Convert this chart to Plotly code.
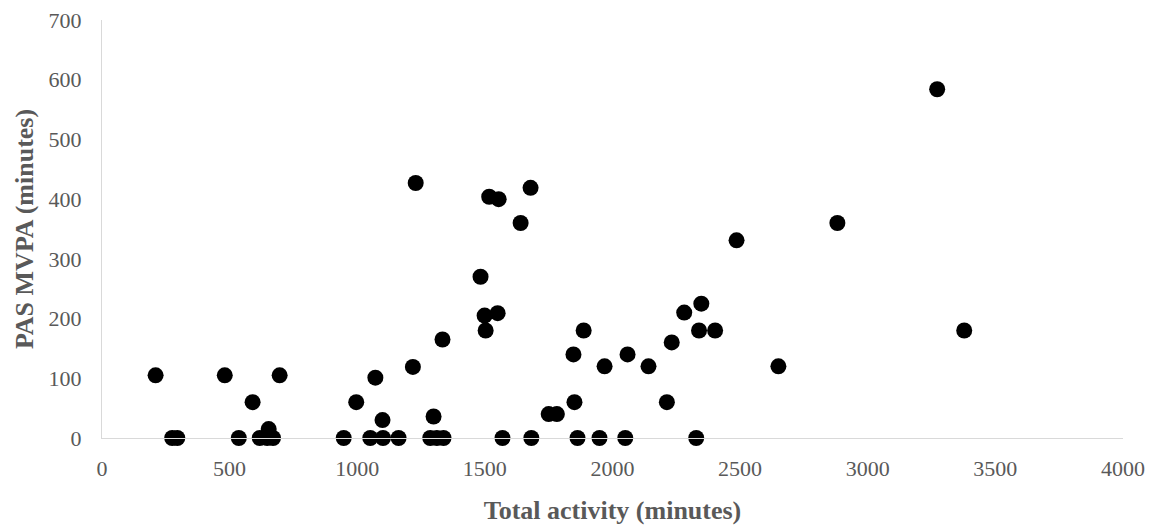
import plotly.graph_objects as go

total_activity = [210, 275, 295, 481, 536, 590, 618, 647, 670, 653, 696,
                  947, 996, 1051, 1101, 1162, 1071, 1099, 1218, 1229,
                  1286, 1312, 1338, 1299, 1334, 1483, 1499, 1503, 1517,
                  1550, 1554, 1569, 1640, 1679, 1682, 1750, 1782, 1847,
                  1851, 1863, 1887, 1949, 1969, 2050, 2059, 2141, 2213,
                  2232, 2281, 2328, 2339, 2348, 2402, 2486, 2650, 2881,
                  3272, 3378]
pas_mvpa = [105, 0, 0, 105, 0, 60, 0, 0, 0, 15, 105,
            0, 60, 0, 0, 0, 101, 30, 119, 427,
            0, 0, 0, 36, 165, 270, 205, 180, 404,
            209, 400, 0, 360, 419, 0, 40, 40, 140,
            60, 0, 180, 0, 120, 0, 140, 120, 60,
            160, 210, 0, 180, 225, 180, 331, 120, 360,
            584, 180]

x_ticks = [0, 500, 1000, 1500, 2000, 2500, 3000, 3500, 4000]
y_ticks = [0, 100, 200, 300, 400, 500, 600, 700]

font_family = "Liberation Serif, Times New Roman, serif"
grey = "#595959"

fig = go.Figure(go.Scatter(
    x=total_activity, y=pas_mvpa, mode="markers",
    marker=dict(color="black", size=16, line=dict(width=0)),
    showlegend=False, cliponaxis=False,
))

fig.update_layout(
    width=1163, height=525,
    margin=dict(l=101.5, r=40, t=20, b=86.5),
    plot_bgcolor="white", paper_bgcolor="white",
    font=dict(family=font_family, color=grey, size=22),
)
fig.update_xaxes(
    range=[0, 4000], tickvals=x_ticks, ticktext=[str(v) for v in x_ticks],
    showgrid=False, zeroline=False, showline=True, linecolor="#d9d9d9", linewidth=1.3,
    ticks="", ticklabelstandoff=10, automargin=False,
    tickfont=dict(family=font_family, size=22, color=grey),
    title=dict(text="<b>Total activity (minutes)</b>", standoff=23,
               font=dict(family=font_family, size=26, color=grey)),
)
fig.update_yaxes(
    range=[0, 700], tickvals=y_ticks, ticktext=[str(v) for v in y_ticks],
    showgrid=False, zeroline=False, showline=True, linecolor="#d9d9d9", linewidth=1.3,
    ticks="", ticklabelstandoff=15, automargin=False,
    tickfont=dict(family=font_family, size=22, color=grey),
    title=dict(text="<b>PAS MVPA (minutes)</b>", standoff=7,
               font=dict(family=font_family, size=26, color=grey)),
)

fig.write_html("out.html", config={"displayModeBar": False},
               post_script="document.body.style.margin='0px';")
